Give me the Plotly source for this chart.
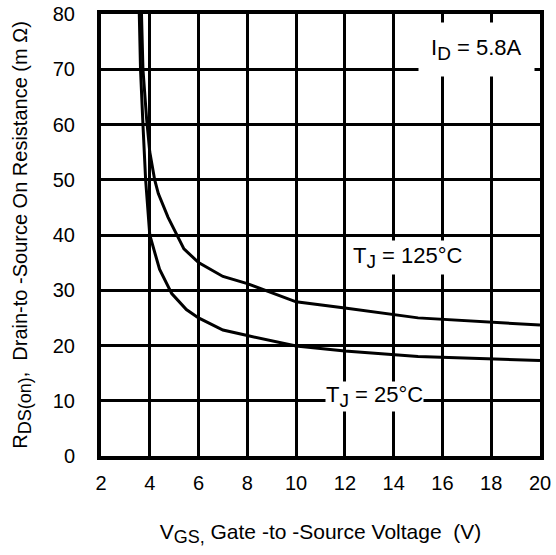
import plotly.graph_objects as go

vgs_25 = [3.57, 3.62, 3.72, 3.83, 4.0, 4.4, 4.9, 5.5, 6.0, 7.0, 8.0, 10.0, 12.0, 15.0, 20.0]
r_25 = [80, 70, 60, 50, 40, 33.8, 29.4, 26.5, 25.0, 22.8, 21.8, 19.9, 19.0, 18.0, 17.3]

vgs_125 = [3.66, 3.72, 3.87, 4.0, 4.2, 4.35, 4.75, 5.4, 6.0, 7.0, 8.0, 10.0, 12.0, 15.0, 20.0]
r_125 = [80, 70, 61, 55, 50, 47.5, 43.2, 37.5, 35.0, 32.5, 31.2, 27.9, 26.8, 25.0, 23.7]

x_ticks = [2, 4, 6, 8, 10, 12, 14, 16, 18, 20]
y_ticks = [0, 10, 20, 30, 40, 50, 60, 70, 80]

FONT = "Liberation Sans, Arial, Helvetica, sans-serif"


def sub(s, size):
    return '<sub><span style="font-size:%dpx">%s</span></sub>' % (size, s)


fig = go.Figure()
fig.add_trace(go.Scatter(x=vgs_25, y=r_25, mode="lines",
                         line=dict(color="black", width=3), name="TJ = 25°C"))
fig.add_trace(go.Scatter(x=vgs_125, y=r_125, mode="lines",
                         line=dict(color="black", width=3), name="TJ = 125°C"))

fig.update_layout(
    width=556, height=555,
    margin=dict(l=101, r=16, t=14, b=99, autoexpand=False),
    plot_bgcolor="white", paper_bgcolor="white",
    showlegend=False,
    font=dict(family=FONT, color="black", size=20),
)
fig.update_xaxes(
    range=[2, 20], tickvals=x_ticks, ticktext=[str(v) for v in x_ticks],
    showgrid=True, gridcolor="black", gridwidth=3,
    showline=True, linecolor="black", linewidth=4, mirror=True,
    zeroline=False, ticks="", ticklabelstandoff=6,
    tickfont=dict(size=20), automargin=False,
    title=dict(text="V" + sub("GS,", 18) + " Gate -to -Source Voltage  (V)",
               font=dict(size=21), standoff=32),
)
fig.update_yaxes(
    range=[0, 80], tickvals=y_ticks, ticktext=[str(v) for v in y_ticks],
    showgrid=True, gridcolor="black", gridwidth=3,
    showline=True, linecolor="black", linewidth=4, mirror=True,
    zeroline=False, ticks="", ticklabelstandoff=18,
    tickfont=dict(size=20), automargin=False,
    title=dict(text="R" + sub("DS(on)", 18) + ",  Drain-to -Source On Resistance (m Ω)",
               font=dict(size=20), standoff=21),
)

fig.add_annotation(x=17.4, y=73.6, xref="x", yref="y",
                   text="I" + sub("D", 19) + " = 5.8A", showarrow=False,
                   font=dict(size=22), bgcolor="white", borderpad=12)
fig.add_annotation(x=14.58, y=36.0, xref="x", yref="y",
                   text="T" + sub("J", 19) + " = 125°C", showarrow=False,
                   font=dict(size=22), bgcolor="white", borderpad=2)
fig.add_annotation(x=13.2, y=10.8, xref="x", yref="y",
                   text="T" + sub("J", 19) + " = 25°C", showarrow=False,
                   font=dict(size=22), bgcolor="white", borderpad=0)

fig.write_html("out.html", config={"displayModeBar": False},
               post_script="document.body.style.margin='0';document.body.style.padding='0';")
